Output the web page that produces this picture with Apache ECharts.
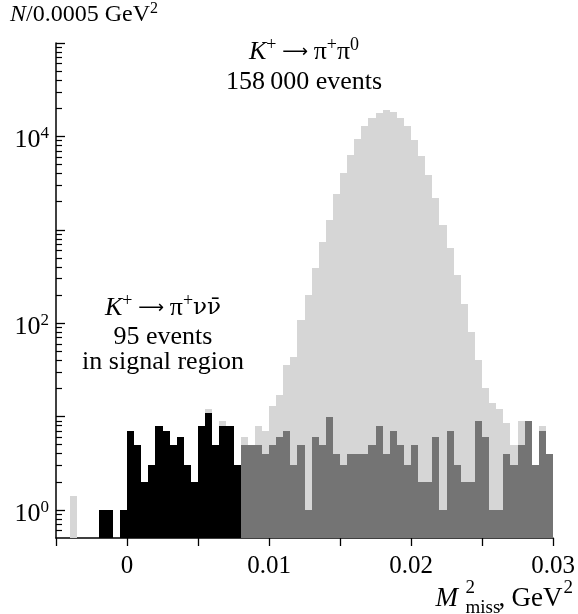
<!DOCTYPE html>
<html>
<head>
<meta charset="utf-8">
<script src="https://cdn.jsdelivr.net/npm/echarts@6/dist/echarts.min.js"></script>
<style>
  html, body { margin: 0; padding: 0; background: #fff; }
  #chart { width: 578px; height: 614px; }
</style>
</head>
<body>
<div id="chart"></div>
<script>
// Histogram binning (GeV^2)
const binWidth = 0.0005;
const signalFirstEdge = -0.005;   // black bins: -0.005 .. 0.008
const outsideFirstEdge = 0.008;   // dark grey bins: 0.008 .. 0.03
const pipi0FirstEdge = -0.005;    // light grey bins: -0.005 .. 0.03

// Candidates in the signal region (26 bins)
const signalCounts = [0, 0, 0, 0, 0, 0, 1, 1, 0, 1,
                      7, 5, 2, 3, 8, 7, 5, 6, 3, 2,
                      8, 11, 5, 8, 8, 3];

// Events above the signal region (44 bins)
const outsideCounts = [5, 5, 5, 4, 5, 6, 7, 3, 5, 1,
                       6, 5, 10, 4, 3, 4, 4, 4, 5, 8,
                       4, 7, 5, 3, 5, 2, 2, 6, 1, 7,
                       3, 2, 2, 9, 6, 1, 1, 4, 3, 5,
                       9, 3, 7, 4];

// K+ -> pi+ pi0 sample (70 bins, null where hidden behind the other histograms)
const pipi0Counts = [null, null, 1.4, null, null, null, null, null, null, null,
                     null, null, null, null, null, null, null, null, null, null,
                     null, 12, null, 9, null, null, 6, 5, 8, 7,
                     13, 17, 36, 43, 108, 199, 385, 740, 1285, 2440,
                     4050, 6270, 9290, 12800, 15840, 17920, 19300, 18200, 15840, 12800,
                     9200, 6150, 3830, 2190, 1117, 645, 330, 160, 80, 40,
                     20, 14, 12, 8.5, 5, 9, null, null, 8, null];

// Axis ranges and tick marks
const xMin = -0.005, xMax = 0.03, xStep = 0.005;
const xLabelValues = [0, 0.01, 0.02, 0.03];
const yMin = 0.5, yMax = 100000;
const yLabelValues = [1, 100, 10000];
const yMajorTicks = [1, 10, 100, 1000, 10000, 100000];
const yMinorTicks = [0.6, 0.7, 0.8, 0.9];
[1, 10, 100, 1000, 10000].forEach(d => {
  for (let k = 2; k <= 9; k++) yMinorTicks.push(k * d);
});

const serif = "'Liberation Serif', 'DejaVu Serif', 'Times New Roman', serif";
const arrowFont = "'DejaVu Sans', sans-serif";

function toBins(counts, firstEdge) {
  const out = [];
  counts.forEach((c, i) => {
    if (c == null || c <= 0) return;
    out.push([firstEdge + i * binWidth, firstEdge + (i + 1) * binWidth, c]);
  });
  return out;
}

// One histogram bin: a rectangle from the bin edges down to the axis floor,
// snapped to whole pixels so neighbouring bins join without seams.
function renderBin(params, api) {
  const x0 = api.value(0), x1 = api.value(1), v = api.value(2);
  const topLeft = api.coord([x0, v]);
  const bottomRight = api.coord([x1, yMin]);
  const left = Math.round(topLeft[0]);
  const right = Math.round(bottomRight[0]);
  const top = Math.round(topLeft[1]);
  const bottom = Math.round(bottomRight[1]);
  return {
    type: 'rect',
    shape: { x: left, y: top, width: right - left, height: bottom - top },
    style: { fill: api.visual('color') }
  };
}

function histSeries(name, data, color, z) {
  return {
    name: name,
    type: 'custom',
    renderItem: renderBin,
    data: data,
    encode: { x: [0, 1], y: 2 },
    itemStyle: { color: color },
    clip: true,
    z: z,
    silent: true,
    animation: false
  };
}

const supLabel = v => '10{sup|' + Math.round(Math.log10(v)) + '}';

const supStyle = (size, lift) => ({
  fontSize: size, fontFamily: serif, color: '#000',
  verticalAlign: 'top', padding: [0, 0, lift, 0]
});

const chart = echarts.init(document.getElementById('chart'), null, { renderer: 'canvas' });

chart.setOption({
  backgroundColor: '#ffffff',
  animation: false,
  grid: { left: 56, right: 25, top: 43, bottom: 76 },
  xAxis: {
    type: 'value',
    min: xMin,
    max: xMax,
    interval: xStep,
    axisLine: { show: true, onZero: false, lineStyle: { color: '#000', width: 1.5 } },
    axisTick: { show: true, length: 8, lineStyle: { color: '#000', width: 1.3 } },
    axisLabel: {
      customValues: xLabelValues,
      formatter: v => String(v),
      color: '#000',
      fontFamily: serif,
      fontSize: 25,
      margin: 16
    },
    splitLine: { show: false }
  },
  yAxis: [
    {
      type: 'log',
      logBase: 10,
      min: yMin,
      max: yMax,
      axisLine: { show: true, onZero: false, lineStyle: { color: '#000', width: 1.5 } },
      axisTick: {
        show: true, inside: true, length: 9,
        customValues: yMajorTicks,
        lineStyle: { color: '#000', width: 1.3 }
      },
      axisLabel: {
        customValues: yLabelValues,
        formatter: supLabel,
        color: '#000',
        fontFamily: serif,
        fontSize: 26,
        margin: 7,
        padding: [8, 0, 0, 0],
        rich: { sup: supStyle(17, 13) }
      },
      splitLine: { show: false }
    },
    {
      type: 'log',
      logBase: 10,
      min: yMin,
      max: yMax,
      position: 'left',
      axisLine: { show: false, onZero: false },
      axisTick: {
        show: true, inside: true, length: 6,
        customValues: yMinorTicks,
        lineStyle: { color: '#000', width: 1.2 }
      },
      axisLabel: { show: false },
      splitLine: { show: false }
    }
  ],
  series: [
    histSeries('K+ → π+π0', toBins(pipi0Counts, pipi0FirstEdge), '#d6d6d6', 1),
    histSeries('outside signal region', toBins(outsideCounts, outsideFirstEdge), '#747474', 2),
    histSeries('K+ → π+νν̄', toBins(signalCounts, signalFirstEdge), '#000000', 3)
  ],
  graphic: [
    {
      type: 'text', left: 10, top: 1,
      style: {
        text: '{it|N}/0.0005 GeV{sup|2}',
        fill: '#000', fontFamily: serif, fontSize: 24,
        rich: {
          it: { fontStyle: 'italic', fontFamily: serif, fontSize: 24 },
          sup: supStyle(16, 11)
        }
      }
    },
    {
      type: 'text', x: 304, y: 52,
      style: {
        text: '{it|K}{sup|+}{ar| ⟶ }π{sup|+}π{sup|0}',
        fill: '#000', fontFamily: serif, fontSize: 26, align: 'center', verticalAlign: 'middle',
        rich: {
          it: { fontStyle: 'italic', fontFamily: serif, fontSize: 26 },
          ar: { fontFamily: arrowFont, fontSize: 18 },
          sup: supStyle(18, 13)
        }
      }
    },
    {
      type: 'text', x: 304, y: 82,
      style: {
        text: '158\u2009000 events',
        fill: '#000', fontFamily: serif, fontSize: 26, align: 'center', verticalAlign: 'middle'
      }
    },
    {
      type: 'text', x: 163, y: 308,
      style: {
        text: '{it|K}{sup|+}{ar| ⟶ }π{sup|+}{nu|νν̄}',
        fill: '#000', fontFamily: serif, fontSize: 26, align: 'center', verticalAlign: 'middle',
        rich: {
          it: { fontStyle: 'italic', fontFamily: serif, fontSize: 26 },
          ar: { fontFamily: arrowFont, fontSize: 18 },
          nu: { fontFamily: "'DejaVu Serif', serif", fontSize: 23 },
          sup: supStyle(18, 13)
        }
      }
    },
    {
      type: 'text', x: 163, y: 337,
      style: {
        text: '95 events',
        fill: '#000', fontFamily: serif, fontSize: 26, align: 'center', verticalAlign: 'middle'
      }
    },
    {
      type: 'text', x: 163, y: 362,
      style: {
        text: 'in signal region',
        fill: '#000', fontFamily: serif, fontSize: 26, align: 'center', verticalAlign: 'middle'
      }
    },
    {
      type: 'group', right: 5, top: 579,
      children: [
        { type: 'text', x: 0, y: 6, style: { text: 'M', fill: '#000', fontFamily: serif, fontSize: 27, fontStyle: 'italic' } },
        { type: 'text', x: 30, y: 0, style: { text: '2', fill: '#000', fontFamily: serif, fontSize: 19 } },
        { type: 'text', x: 30, y: 20, style: { text: 'miss', fill: '#000', fontFamily: serif, fontSize: 19 } },
        { type: 'text', x: 63, y: 6, style: { text: ',', fill: '#000', fontFamily: serif, fontSize: 27 } },
        { type: 'text', x: 76, y: 6, style: { text: 'GeV', fill: '#000', fontFamily: serif, fontSize: 27 } },
        { type: 'text', x: 128, y: 0, style: { text: '2', fill: '#000', fontFamily: serif, fontSize: 19 } }
      ]
    }
  ]
});
</script>
</body>
</html>
